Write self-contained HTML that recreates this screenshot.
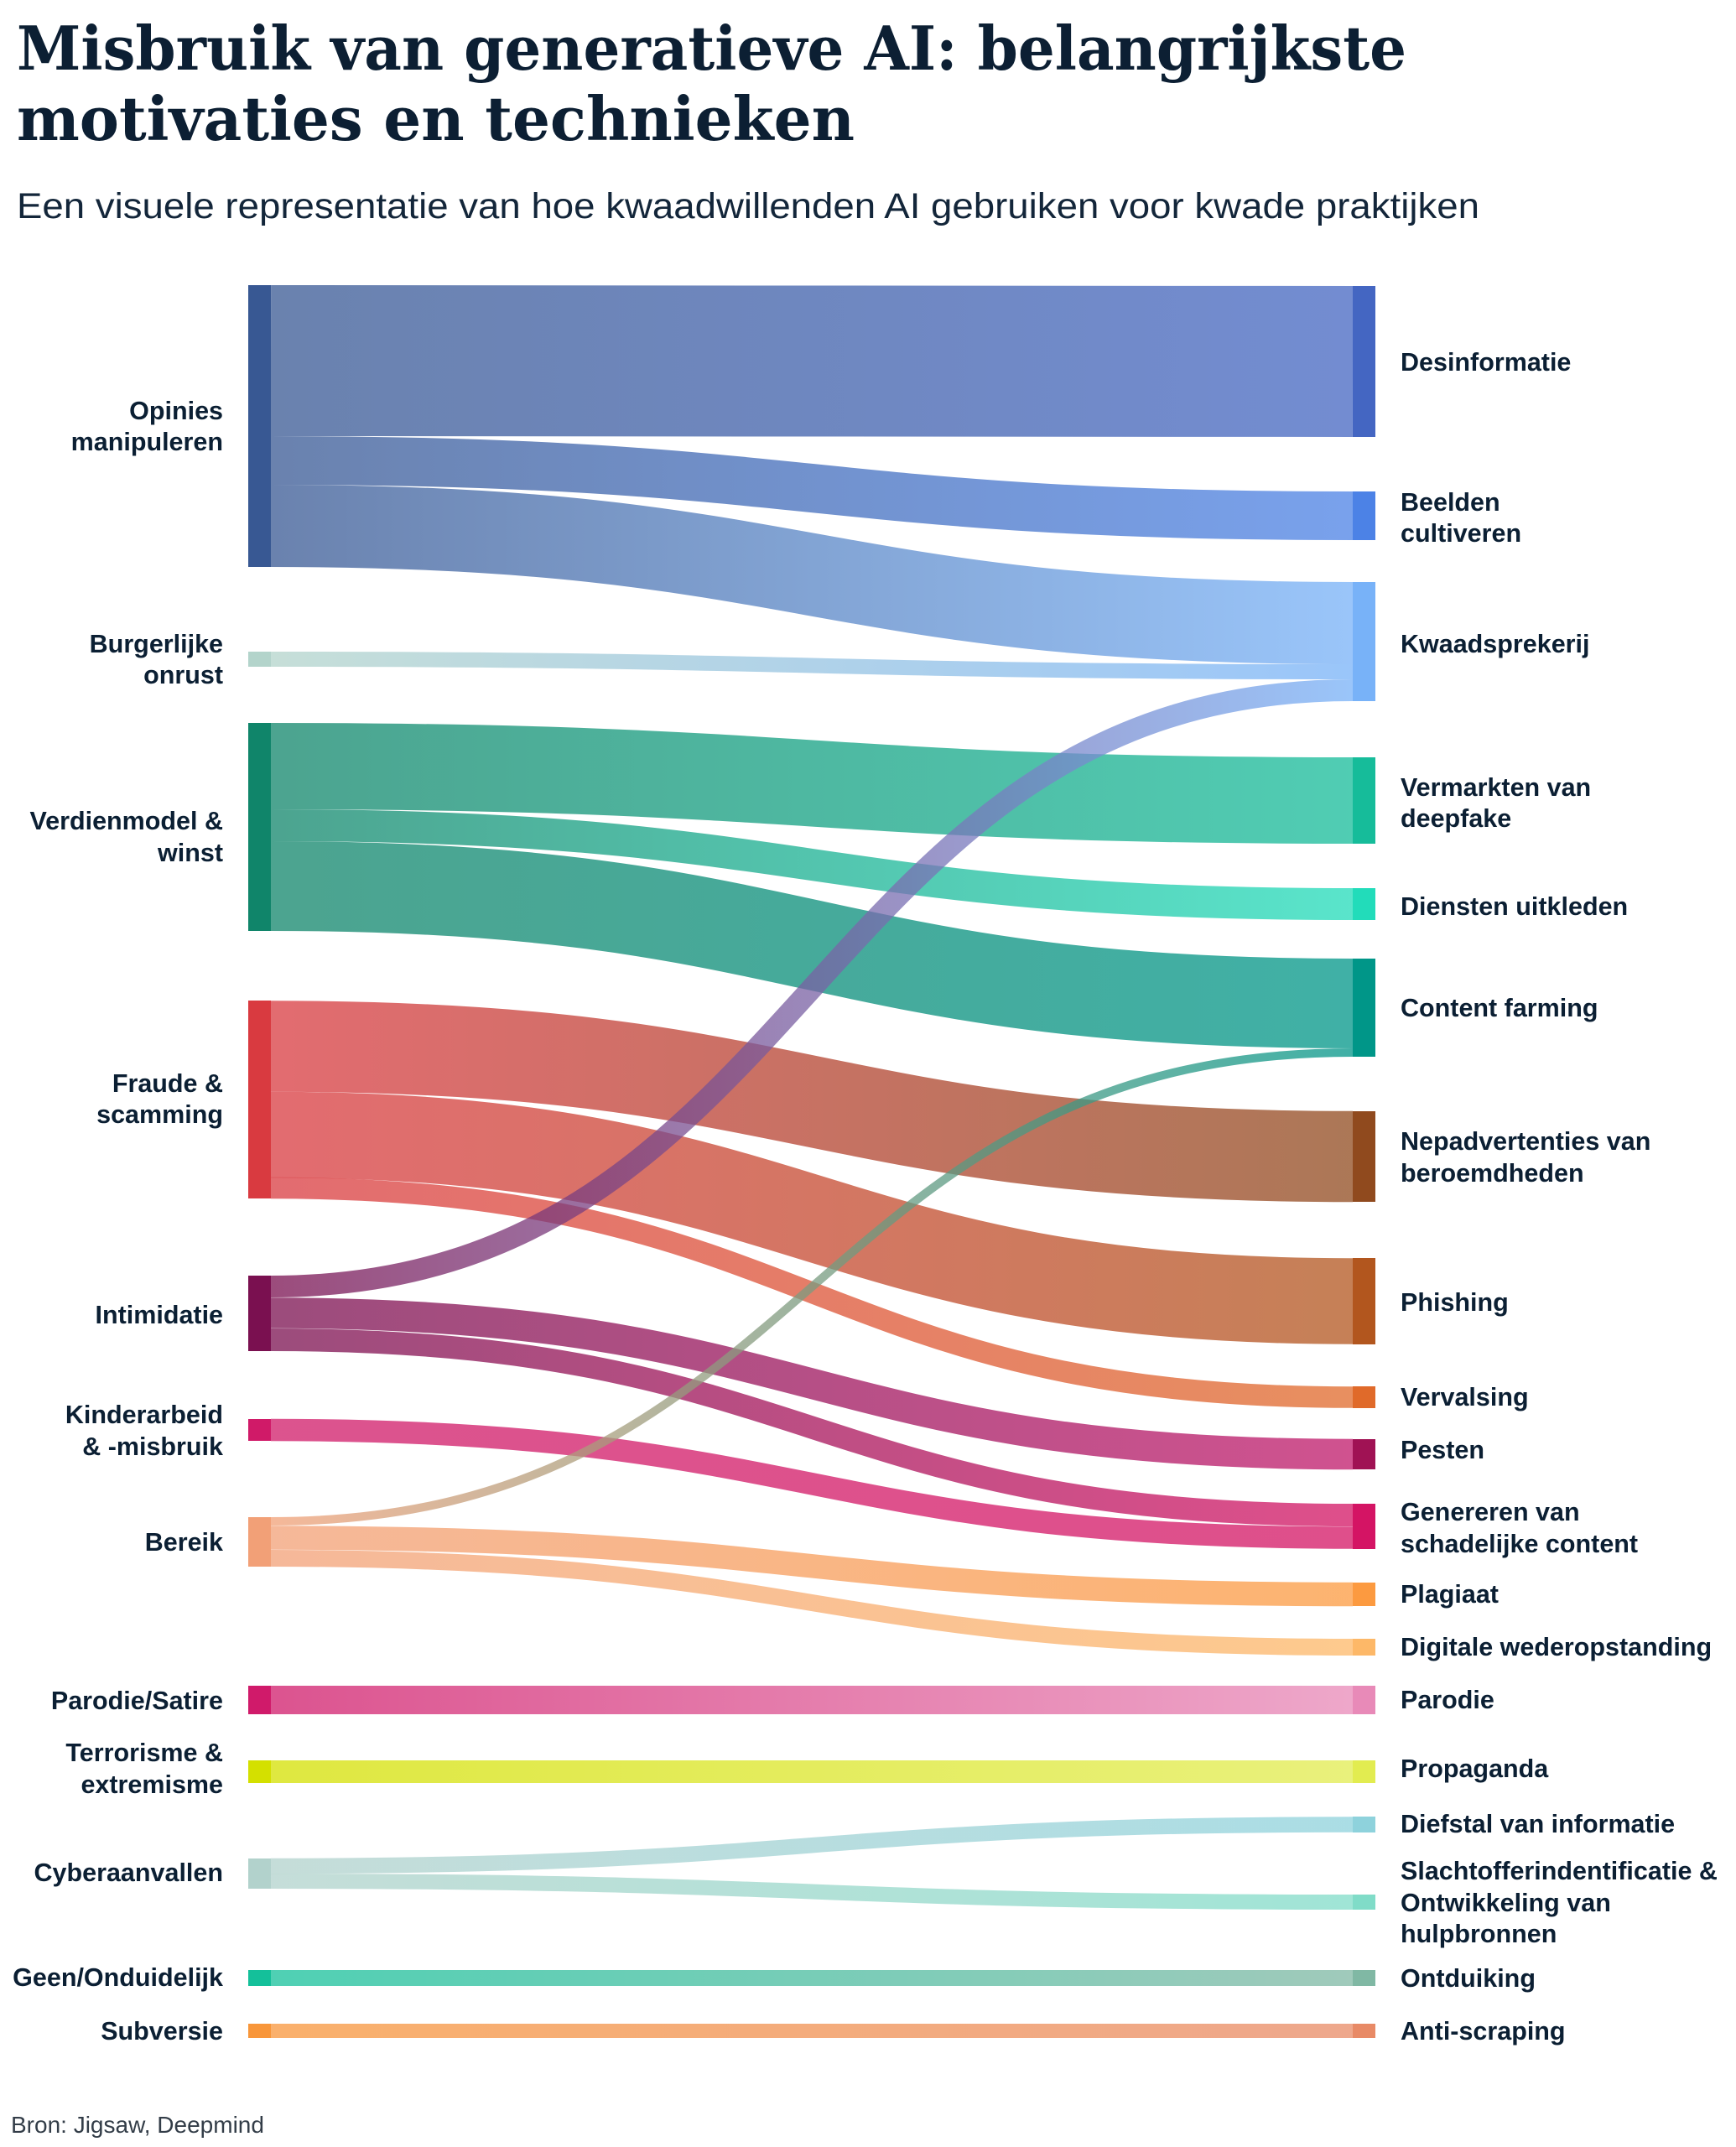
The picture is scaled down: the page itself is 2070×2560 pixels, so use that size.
<!DOCTYPE html>
<html>
<head>
<meta charset="utf-8">
<style>
html,body{margin:0;padding:0;background:#ffffff;}
svg{display:block;}
.lbl{font-family:"Liberation Sans",Arial,sans-serif;font-weight:bold;font-size:30.5px;fill:#0b1f33;}
</style>
</head>
<body>
<svg width="2070" height="2560" viewBox="0 0 2070 2560" xmlns="http://www.w3.org/2000/svg">
<rect x="0" y="0" width="2070" height="2560" fill="#ffffff"/>
<defs>
<linearGradient id="g1" gradientUnits="userSpaceOnUse" x1="323" y1="0" x2="1613" y2="0"><stop offset="0" stop-color="#385893"/><stop offset="1" stop-color="#4466c2"/></linearGradient>
<linearGradient id="g2" gradientUnits="userSpaceOnUse" x1="323" y1="0" x2="1613" y2="0"><stop offset="0" stop-color="#385893"/><stop offset="1" stop-color="#4c82e6"/></linearGradient>
<linearGradient id="g3" gradientUnits="userSpaceOnUse" x1="323" y1="0" x2="1613" y2="0"><stop offset="0" stop-color="#385893"/><stop offset="1" stop-color="#78b2f8"/></linearGradient>
<linearGradient id="g4" gradientUnits="userSpaceOnUse" x1="323" y1="0" x2="1613" y2="0"><stop offset="0" stop-color="#b3d4cb"/><stop offset="1" stop-color="#78b2f8"/></linearGradient>
<linearGradient id="g5" gradientUnits="userSpaceOnUse" x1="323" y1="0" x2="1613" y2="0"><stop offset="0" stop-color="#7a1050"/><stop offset="1" stop-color="#78b2f8"/></linearGradient>
<linearGradient id="g6" gradientUnits="userSpaceOnUse" x1="323" y1="0" x2="1613" y2="0"><stop offset="0" stop-color="#10856a"/><stop offset="1" stop-color="#16bc9a"/></linearGradient>
<linearGradient id="g7" gradientUnits="userSpaceOnUse" x1="323" y1="0" x2="1613" y2="0"><stop offset="0" stop-color="#10856a"/><stop offset="1" stop-color="#22dcba"/></linearGradient>
<linearGradient id="g8" gradientUnits="userSpaceOnUse" x1="323" y1="0" x2="1613" y2="0"><stop offset="0" stop-color="#10856a"/><stop offset="1" stop-color="#009688"/></linearGradient>
<linearGradient id="g9" gradientUnits="userSpaceOnUse" x1="323" y1="0" x2="1613" y2="0"><stop offset="0" stop-color="#f2a077"/><stop offset="1" stop-color="#009688"/></linearGradient>
<linearGradient id="g10" gradientUnits="userSpaceOnUse" x1="323" y1="0" x2="1613" y2="0"><stop offset="0" stop-color="#d93a40"/><stop offset="1" stop-color="#904a1e"/></linearGradient>
<linearGradient id="g11" gradientUnits="userSpaceOnUse" x1="323" y1="0" x2="1613" y2="0"><stop offset="0" stop-color="#d93a40"/><stop offset="1" stop-color="#b2561e"/></linearGradient>
<linearGradient id="g12" gradientUnits="userSpaceOnUse" x1="323" y1="0" x2="1613" y2="0"><stop offset="0" stop-color="#d93a40"/><stop offset="1" stop-color="#e06a2a"/></linearGradient>
<linearGradient id="g13" gradientUnits="userSpaceOnUse" x1="323" y1="0" x2="1613" y2="0"><stop offset="0" stop-color="#7a1050"/><stop offset="1" stop-color="#c0186a"/></linearGradient>
<linearGradient id="g14" gradientUnits="userSpaceOnUse" x1="323" y1="0" x2="1613" y2="0"><stop offset="0" stop-color="#7a1050"/><stop offset="1" stop-color="#d41464"/></linearGradient>
<linearGradient id="g15" gradientUnits="userSpaceOnUse" x1="323" y1="0" x2="1613" y2="0"><stop offset="0" stop-color="#d01a68"/><stop offset="1" stop-color="#d41464"/></linearGradient>
<linearGradient id="g16" gradientUnits="userSpaceOnUse" x1="323" y1="0" x2="1613" y2="0"><stop offset="0" stop-color="#f2a077"/><stop offset="1" stop-color="#fc9a40"/></linearGradient>
<linearGradient id="g17" gradientUnits="userSpaceOnUse" x1="323" y1="0" x2="1613" y2="0"><stop offset="0" stop-color="#f2a077"/><stop offset="1" stop-color="#fdb868"/></linearGradient>
<linearGradient id="g18" gradientUnits="userSpaceOnUse" x1="323" y1="0" x2="1613" y2="0"><stop offset="0" stop-color="#d01a6a"/><stop offset="1" stop-color="#e88ab8"/></linearGradient>
<linearGradient id="g19" gradientUnits="userSpaceOnUse" x1="323" y1="0" x2="1613" y2="0"><stop offset="0" stop-color="#d4e000"/><stop offset="1" stop-color="#e2ec50"/></linearGradient>
<linearGradient id="g20" gradientUnits="userSpaceOnUse" x1="323" y1="0" x2="1613" y2="0"><stop offset="0" stop-color="#b2d2cc"/><stop offset="1" stop-color="#8ed2dc"/></linearGradient>
<linearGradient id="g21" gradientUnits="userSpaceOnUse" x1="323" y1="0" x2="1613" y2="0"><stop offset="0" stop-color="#b2d2cc"/><stop offset="1" stop-color="#80dcc8"/></linearGradient>
<linearGradient id="g22" gradientUnits="userSpaceOnUse" x1="323" y1="0" x2="1613" y2="0"><stop offset="0" stop-color="#14c09a"/><stop offset="1" stop-color="#80b8a4"/></linearGradient>
<linearGradient id="g23" gradientUnits="userSpaceOnUse" x1="323" y1="0" x2="1613" y2="0"><stop offset="0" stop-color="#f8963a"/><stop offset="1" stop-color="#e88a66"/></linearGradient>
</defs>

<!-- Title -->
<text x="20" y="83" font-family="'DejaVu Serif','Liberation Serif',serif" font-weight="bold" font-size="72" fill="#0c1f33" textLength="1657" lengthAdjust="spacingAndGlyphs">Misbruik van generatieve AI: belangrijkste</text>
<text x="20" y="167" font-family="'DejaVu Serif','Liberation Serif',serif" font-weight="bold" font-size="72" fill="#0c1f33" textLength="999" lengthAdjust="spacingAndGlyphs">motivaties en technieken</text>
<text x="20" y="260" font-family="'Liberation Sans',Arial,sans-serif" font-size="43" fill="#13263a" textLength="1744" lengthAdjust="spacingAndGlyphs">Een visuele representatie van hoe kwaadwillenden AI gebruiken voor kwade praktijken</text>

<!-- Links -->
<g fill="none" stroke-opacity="0.75">
<path d="M323,430 C968,430 968,431 1613,431" stroke="url(#g1)" stroke-width="180"/>
<path d="M323,549 C968,549 968,615 1613,615" stroke="url(#g2)" stroke-width="58"/>
<path d="M323,627 C968,627 968,743 1613,743" stroke="url(#g3)" stroke-width="98"/>
<path d="M323,786 C968,786 968,801 1613,801" stroke="url(#g4)" stroke-width="18"/>
<path d="M323,913.5 C968,913.5 968,954.5 1613,954.5" stroke="url(#g6)" stroke-width="103"/>
<path d="M323,984 C968,984 968,1078 1613,1078" stroke="url(#g7)" stroke-width="38"/>
<path d="M323,1056.5 C968,1056.5 968,1196.5 1613,1196.5" stroke="url(#g8)" stroke-width="107"/>
<path d="M323,1247.5 C968,1247.5 968,1379 1613,1379" stroke="url(#g10)" stroke-width="108.5"/>
<path d="M323,1353 C968,1353 968,1551.5 1613,1551.5" stroke="url(#g11)" stroke-width="102.5"/>
<path d="M323,1416.5 C968,1416.5 968,1666 1613,1666" stroke="url(#g12)" stroke-width="25.5"/>
<path d="M323,1534 C968,1534 968,823 1613,823" stroke="url(#g5)" stroke-width="26"/>
<path d="M323,1565.5 C968,1565.5 968,1734 1613,1734" stroke="url(#g13)" stroke-width="36.5"/>
<path d="M323,1597.5 C968,1597.5 968,1806.5 1613,1806.5" stroke="url(#g14)" stroke-width="27"/>
<path d="M323,1705 C968,1705 968,1833.5 1613,1833.5" stroke="url(#g15)" stroke-width="26.5"/>
<path d="M323,1814 C968,1814 968,1255 1613,1255" stroke="url(#g9)" stroke-width="10"/>
<path d="M323,1833.5 C968,1833.5 968,1901 1613,1901" stroke="url(#g16)" stroke-width="28.5"/>
<path d="M323,1858 C968,1858 968,1964 1613,1964" stroke="url(#g17)" stroke-width="20"/>
<path d="M323,2027 C968,2027 968,2027 1613,2027" stroke="url(#g18)" stroke-width="34"/>
<path d="M323,2112.5 C968,2112.5 968,2112.5 1613,2112.5" stroke="url(#g19)" stroke-width="27"/>
<path d="M323,2225 C968,2225 968,2175.5 1613,2175.5" stroke="url(#g20)" stroke-width="18.5"/>
<path d="M323,2243 C968,2243 968,2268 1613,2268" stroke="url(#g21)" stroke-width="18"/>
<path d="M323,2358.5 C968,2358.5 968,2358.5 1613,2358.5" stroke="url(#g22)" stroke-width="19"/>
<path d="M323,2421.5 C968,2421.5 968,2421.5 1613,2421.5" stroke="url(#g23)" stroke-width="17"/>
</g>

<!-- Left nodes -->
<g>
<rect x="296" y="340" width="27" height="336" fill="#385893"/>
<rect x="296" y="777" width="27" height="18" fill="#b3d4cb"/>
<rect x="296" y="862" width="27" height="248" fill="#10856a"/>
<rect x="296" y="1193" width="27" height="236" fill="#d93a40"/>
<rect x="296" y="1521" width="27" height="90" fill="#7a1050"/>
<rect x="296" y="1692" width="27" height="26" fill="#d01a68"/>
<rect x="296" y="1809" width="27" height="59" fill="#f2a077"/>
<rect x="296" y="2010" width="27" height="34" fill="#d01a6a"/>
<rect x="296" y="2099" width="27" height="27" fill="#d4e000"/>
<rect x="296" y="2216" width="27" height="36" fill="#b2d2cc"/>
<rect x="296" y="2349" width="27" height="19" fill="#14c09a"/>
<rect x="296" y="2413" width="27" height="17" fill="#f8963a"/>
</g>

<!-- Right nodes -->
<g>
<rect x="1613" y="341" width="27" height="180" fill="#4466c2"/>
<rect x="1613" y="586" width="27" height="58" fill="#4c82e6"/>
<rect x="1613" y="694" width="27" height="142" fill="#78b2f8"/>
<rect x="1613" y="903" width="27" height="103" fill="#16bc9a"/>
<rect x="1613" y="1059" width="27" height="38" fill="#22dcba"/>
<rect x="1613" y="1143" width="27" height="117" fill="#009688"/>
<rect x="1613" y="1325" width="27" height="108" fill="#904a1e"/>
<rect x="1613" y="1500" width="27" height="103" fill="#b2561e"/>
<rect x="1613" y="1653" width="27" height="26" fill="#e06a2a"/>
<rect x="1613" y="1716" width="27" height="36" fill="#a01254"/>
<rect x="1613" y="1793" width="27" height="54" fill="#d41464"/>
<rect x="1613" y="1887" width="27" height="28" fill="#fc9a40"/>
<rect x="1613" y="1954" width="27" height="20" fill="#fdb868"/>
<rect x="1613" y="2010" width="27" height="34" fill="#e88ab8"/>
<rect x="1613" y="2099" width="27" height="27" fill="#e2ec50"/>
<rect x="1613" y="2166" width="27" height="19" fill="#8ed2dc"/>
<rect x="1613" y="2259" width="27" height="18" fill="#80dcc8"/>
<rect x="1613" y="2349" width="27" height="19" fill="#80b8a4"/>
<rect x="1613" y="2413" width="27" height="17" fill="#e88a66"/>
</g>

<!-- Left labels -->
<g class="lbl" text-anchor="end">
<text x="266" y="500">Opinies</text>
<text x="266" y="537">manipuleren</text>
<text x="266" y="778">Burgerlijke</text>
<text x="266" y="815">onrust</text>
<text x="266" y="989">Verdienmodel &amp;</text>
<text x="266" y="1027">winst</text>
<text x="266" y="1302">Fraude &amp;</text>
<text x="266" y="1339">scamming</text>
<text x="266" y="1578">Intimidatie</text>
<text x="266" y="1697">Kinderarbeid</text>
<text x="266" y="1735">&amp; -misbruik</text>
<text x="266" y="1849">Bereik</text>
<text x="266" y="2038">Parodie/Satire</text>
<text x="266" y="2100">Terrorisme &amp;</text>
<text x="266" y="2138">extremisme</text>
<text x="266" y="2243">Cyberaanvallen</text>
<text x="266" y="2368">Geen/Onduidelijk</text>
<text x="266" y="2432">Subversie</text>
</g>

<!-- Right labels -->
<g class="lbl">
<text x="1670" y="442">Desinformatie</text>
<text x="1670" y="609">Beelden</text>
<text x="1670" y="646">cultiveren</text>
<text x="1670" y="778">Kwaadsprekerij</text>
<text x="1670" y="949">Vermarkten van</text>
<text x="1670" y="986">deepfake</text>
<text x="1670" y="1091">Diensten uitkleden</text>
<text x="1670" y="1212">Content farming</text>
<text x="1670" y="1371">Nepadvertenties van</text>
<text x="1670" y="1409">beroemdheden</text>
<text x="1670" y="1563">Phishing</text>
<text x="1670" y="1676">Vervalsing</text>
<text x="1670" y="1739">Pesten</text>
<text x="1670" y="1813">Genereren van</text>
<text x="1670" y="1851">schadelijke content</text>
<text x="1670" y="1911">Plagiaat</text>
<text x="1670" y="1974">Digitale wederopstanding</text>
<text x="1670" y="2037">Parodie</text>
<text x="1670" y="2119">Propaganda</text>
<text x="1670" y="2185">Diefstal van informatie</text>
<text x="1670" y="2241">Slachtofferindentificatie &amp;</text>
<text x="1670" y="2279">Ontwikkeling van</text>
<text x="1670" y="2316">hulpbronnen</text>
<text x="1670" y="2369">Ontduiking</text>
<text x="1670" y="2432">Anti-scraping</text>
</g>

<!-- Source -->
<text x="13" y="2543" font-family="'Liberation Sans',Arial,sans-serif" font-size="28" fill="#333d48">Bron: Jigsaw, Deepmind</text>
</svg>
</body>
</html>
